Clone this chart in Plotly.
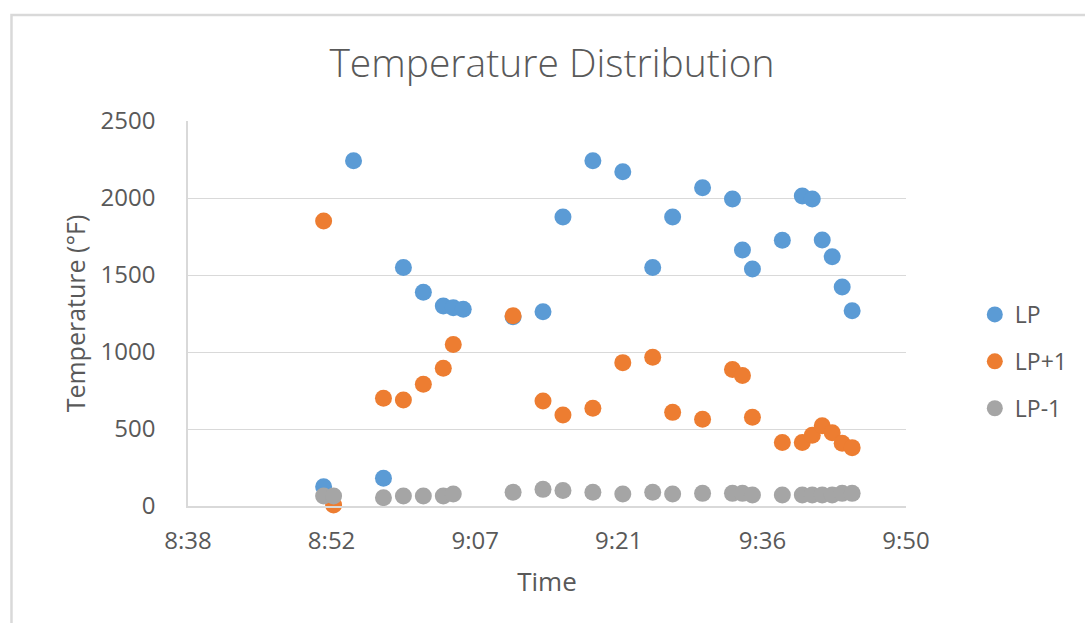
import pandas as pd
import plotly.graph_objects as go

# ---- data ----
lp_times = ["8:52", "8:55", "8:58", "9:00", "9:02", "9:04", "9:05", "9:06", "9:11", "9:14",
            "9:16", "9:19", "9:22", "9:25", "9:27", "9:30", "9:33", "9:34", "9:35", "9:38",
            "9:40", "9:41", "9:42", "9:43", "9:44", "9:45"]
lp_vals = [125, 2242, 180, 1548, 1388, 1299, 1288, 1277, 1229, 1262,
           1877, 2242, 2171, 1548, 1877, 2067, 1994, 1662, 1539, 1725,
           2013, 1994, 1727, 1619, 1422, 1268]

lp1_times = ["8:52", "8:53", "8:58", "9:00", "9:02", "9:04", "9:05", "9:11", "9:14", "9:16",
             "9:19", "9:22", "9:25", "9:27", "9:30", "9:33", "9:34", "9:35", "9:38", "9:40",
             "9:41", "9:42", "9:43", "9:44", "9:45"]
lp1_vals = [1851, 6, 699, 688, 790, 894, 1048, 1236, 682, 591,
            634, 931, 966, 608, 563, 887, 848, 576, 413, 413,
            459, 521, 476, 407, 379]

lpm1_times = ["8:52", "8:53", "8:58", "9:00", "9:02", "9:04", "9:05", "9:11", "9:14", "9:16",
              "9:19", "9:22", "9:25", "9:27", "9:30", "9:33", "9:34", "9:35", "9:38", "9:40",
              "9:41", "9:42", "9:43", "9:44", "9:45"]
lpm1_vals = [65, 65, 54, 65, 65, 65, 78, 89, 108, 100,
             89, 78, 89, 78, 82, 82, 82, 71, 71, 71,
             71, 71, 71, 82, 82]

series_names = ["LP", "LP+1", "LP-1"]
tick_times = ["08:38:24", "08:52:48", "09:07:12", "09:21:36", "09:36:00", "09:50:24"]
tick_labels = ["8:38", "8:52", "9:07", "9:21", "9:36", "9:50"]
y_ticks = [0, 500, 1000, 1500, 2000, 2500]

DAY = "2024-01-01 "


def to_dt(times):
    return pd.to_datetime([DAY + t for t in times])


colors = ["#5B9BD5", "#ED7D31", "#A5A5A5"]
txt = "#595959"
grid = "#D9D9D9"
FONT = "Open Sans"

fig = go.Figure()
for i, (name, t, v) in enumerate(zip(series_names,
                                     [lp_times, lp1_times, lpm1_times],
                                     [lp_vals, lp1_vals, lpm1_vals])):
    fig.add_trace(go.Scatter(
        x=to_dt(t), y=v, mode="markers", name=name,
        legendgroup=name,
        marker=dict(color=colors[i], size=17, line=dict(width=0)),
        cliponaxis=False,
    ))

W, H = 1085, 623
L, R, T, B = 188, 908, 121, 506
pw, ph = R - L, B - T

fig.update_layout(
    width=W, height=H,
    margin=dict(l=L, r=W - R, t=T, b=H - B),
    paper_bgcolor="white", plot_bgcolor="white",
    font=dict(family=FONT, color=txt),
    title=dict(text="Temperature Distribution", x=(553 - L) / pw, xref="paper",
               xanchor="center", y=1 - 63 / H, yanchor="middle",
               font=dict(size=39, color=txt, family=FONT, weight=300)),
    showlegend=True,
    legend=dict(x=(977 - L) / pw, xanchor="left", y=(B - 293) / ph, yanchor="top",
                font=dict(size=23, color=txt, family=FONT),
                tracegroupgap=14, itemsizing="trace",
                bgcolor="rgba(0,0,0,0)"),
    xaxis=dict(
        type="date",
        range=[DAY + tick_times[0], DAY + tick_times[-1]],
        tickvals=[DAY + t for t in tick_times], ticktext=tick_labels,
        showgrid=False, zeroline=False,
        showline=True, linecolor=grid, linewidth=1.5,
        ticks="", tickfont=dict(size=24, color=txt), ticklabelstandoff=12,
        title=dict(text="Time", font=dict(size=26, color=txt), standoff=18),
    ),
    yaxis=dict(
        range=[0, 2500], tickvals=y_ticks,
        showgrid=True, gridcolor=grid, gridwidth=1.2,
        zeroline=False, showline=True, linecolor=grid, linewidth=1.5,
        ticks="", tickfont=dict(size=24, color=txt), ticklabelstandoff=26,
        title=dict(text="Temperature (°F)", font=dict(size=25, color=txt), standoff=8),
    ),
    shapes=[dict(type="rect", xref="paper", yref="paper",
                 x0=(11 - L) / pw, x1=(W + 20 - L) / pw,
                 y0=(B - (H + 20)) / ph, y1=(B - 15) / ph,
                 line=dict(color=grid, width=2.5), fillcolor="rgba(0,0,0,0)",
                 layer="below")],
)

fig.write_html("out.html")
